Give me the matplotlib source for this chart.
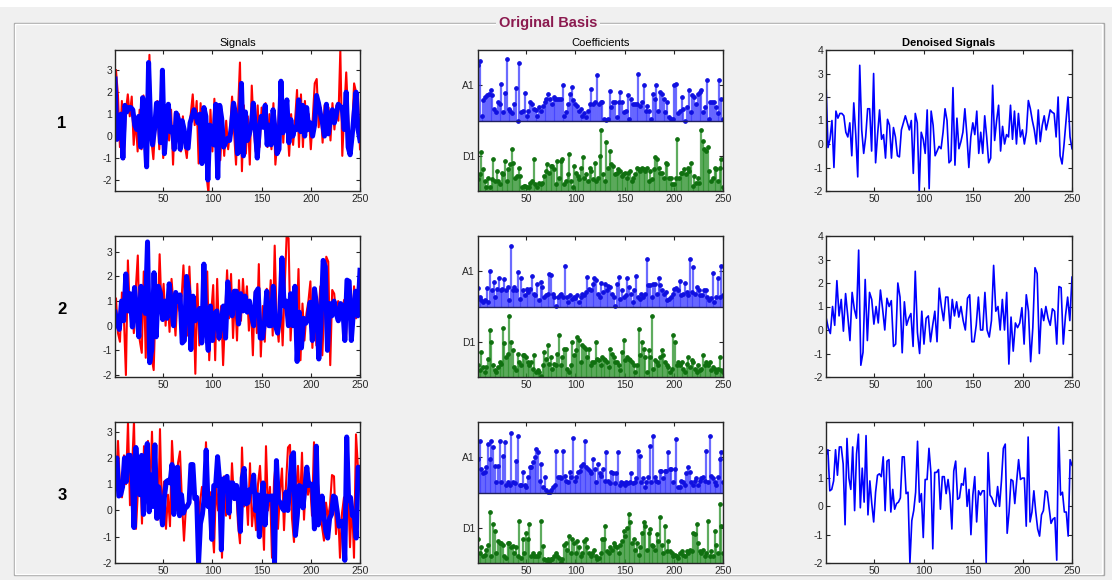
import numpy as np
import matplotlib.pyplot as plt
from matplotlib.patches import Rectangle

plt.rcParams['font.family'] = ['Liberation Sans', 'DejaVu Sans']
plt.rcParams['axes.unicode_minus'] = False

W, H = 1112, 580

# denoised signals (blue), one value every second sample
den1 = [2.6, -0.15, 0.2, 1.0, -1.0, 1.4, 1.1, 1.3, 1.3, 1.2, 0.5, 0.3, 0.9, -0.5, 1.75, 0.4,
        -1.4, 3.35, 0.6, -0.4, 0.3, 1.5, 1.5, -0.3, 3.0, -0.8, 0.4, 1.45, 0.2, 0.4, -0.6, 1.05,
        0.8, -0.6, 0.7, 0.3, -0.5, -0.55, 0.6, 0.9, 1.2, 0.9, 0.6, 1.0, -1.25, 1.3, 0.9, -2.0,
        0.5, 0.2, -0.4, 1.45, -1.9, 1.4, 0.8, -0.5, -0.3, -0.1, -0.2, 0.5, 1.5, 1.0, -0.8, -0.7,
        2.4, -0.9, 1.1, -0.2, 0.1, 0.5, 1.5, 0.4, -1.0, 0.3, 0.9, 0.4, 1.4, -0.4, 0.5, -0.4,
        1.2, 0.3, -0.8, -0.6, 2.5, 0.15, 1.0, 1.65, -0.3, 0.75, 0.0, 0.4, 0.3, 1.65, 0.2, 1.4,
        0.0, 1.3, 0.3, 0.6, 0.0, 0.5, 1.85, 1.5, 1.0, 0.6, 0.0, 1.45, 0.1, 0.8, 1.2, 0.6,
        1.0, 1.45, 1.35, 1.3, 0.3, 2.0, -0.5, -0.85, 0.0, 1.0, 2.0, 0.3, -0.2]
den2 = [0.55, 0.1, -0.15, 1.0, 0.2, 2.1, 0.6, 1.3, -0.05, 1.55, 0.6, -0.45, 1.6, 0.9, 0.5, 3.4,
        -1.5, -0.95, 2.15, -0.45, 1.6, 1.3, 0.25, 1.0, 0.3, 1.7, 0.9, 0.0, 1.35, 1.0, 1.25, -0.7,
        -0.6, 2.0, 1.4, -0.97, 1.2, 0.2, 0.5, 0.7, -0.7, 2.5, -0.1, -1.0, 0.8, -0.6, 0.5, 0.6,
        -0.5, 0.2, 0.8, -0.5, 1.78, 1.0, 0.4, 1.4, 1.4, 0.07, 1.3, 0.6, 1.2, 0.55, 1.0, 0.4,
        0.0, 1.35, 1.5, -0.5, -0.5, 0.2, 1.4, 0.0, 0.0, 1.6, 0.0, -0.3, 0.4, 2.75, 0.8, 1.0,
        0.0, 1.3, 0.0, 1.6, -1.45, 0.55, -0.9, 0.3, 0.1, 0.3, 0.95, -0.6, 1.5, 0.8, -1.35, 0.1,
        2.65, 2.4, -1.0, 0.9, 0.4, 1.0, 0.5, 0.2, 0.9, 0.8, -0.6, 1.85, 1.8, -0.6, 0.6, 1.4,
        0.4, 2.25]
den3 = [1.8, 2.0, 0.55, 0.6, 0.9, 2.0, 1.1, 2.1, 2.1, 1.5, -0.65, 2.4, 1.0, 0.6, 2.1, -0.15,
        1.85, 2.55, -0.05, 1.35, 0.15, 2.5, -0.3, 0.9, 0.1, -0.55, 0.5, 1.1, 1.15, 1.05, 1.75, -0.15,
        1.6, 1.65, -0.2, 0.6, -0.1, 0.1, 0.15, 0.3, 1.75, 1.75, 0.45, 0.5, -2.0, -0.5, -0.15, 0.5,
        2.3, 0.15, 0.45, -1.1, 0.95, 0.95, 2.05, 1.2, -1.5, 1.2, 1.2, 1.3, -0.1, 1.05, 1.05, 0.45,
        0.95, 0.4, -0.8, 1.25, 1.6, 0.25, 0.3, 0.8, 0.75, 1.35, 0.0, 0.6, -1.0, 0.4, 1.05, -0.55,
        0.55, 0.4, 0.55, 0.55, -2.0, 1.9, 0.4, 0.3, 0.1, 0.0, 0.7, 0.0, 0.9, 2.05, 2.2, -0.95,
        -0.2, 0.95, 0.9, 0.1, 0.9, 1.65, 0.95, 1.0, 1.0, -0.7, 2.45, -0.55, -0.2, 0.55, -0.2, -0.8,
        -1.05, -0.3, -0.15, 0.55, 0.5, -0.05, -0.6, -0.45, -0.4, -1.9, 2.8, 0.4, 0.5, -0.2, -0.2, -1.05,
        1.65, 1.45]

# original noisy signals (red)
sig1 = [3.0, 1.85, -0.5, 1.6, -1.05, 1.1, 1.9, 0.9, 1.8, -0.4, 0.8, -0.7, 1.2, -0.6, 1.85, -1.3,
        1.0, 3.7, -0.2, -1.05, 0.6, 1.6, -0.6, 2.0, -1.0, 0.6, 1.1, -0.2, 1.2, -1.3, 1.1, 0.2,
        1.0, -0.7, 0.9, -0.4, -1.0, 0.3, 1.0, 1.9, 0.5, 1.6, -1.25, 1.5, -0.6, 1.0, -1.8, -2.6,
        1.2, -0.7, 1.7, -1.1, 1.45, -1.1, 0.6, -0.9, 0.7, -0.6, 0.3, 1.8, 0.2, -1.3, 1.1, 3.35,
        -1.6, 1.4, -0.8, 0.9, -1.3, 2.3, 0.3, -0.7, 1.4, -0.5, 1.3, 0.6, 1.5, -0.5, 1.0, -0.6,
        1.5, -1.3, -0.2, 1.6, 2.5, -0.3, 1.2, 0.6, -0.9, 1.0, -0.4, 0.7, 2.1, -0.5, 1.9, -0.5,
        1.6, 0.2, 1.0, -0.6, 0.8, 2.4, 2.6, 0.4, 1.3, -0.3, 1.4, 0.5, 1.3, -0.2, 1.5, 0.3,
        1.4, 0.7, 3.9, -0.9, 1.1, 2.9, 0.8, -0.6, 0.3, 2.4, 2.0, 1.7, -0.6]
sig2 = [1.1, -0.3, -0.65, 1.35, 0.3, -2.0, 2.65, 0.5, 1.0, -0.3, 1.5, 2.85, -0.6, -1.1, 2.2, -1.3,
        2.6, 0.6, -1.3, -1.8, 1.0, 0.3, 2.9, 0.6, 1.7, 0.0, 1.2, -0.25, 1.9, 0.8, -0.4, 1.2,
        0.6, 1.0, 2.45, 0.5, -0.4, 2.4, 0.3, 1.2, -1.95, 1.7, -0.8, 0.4, 1.1, -0.3, 2.2, -1.4,
        0.5, 1.65, -1.4, 1.9, -0.6, 0.8, -1.6, 0.4, 2.25, 0.3, 2.1, -0.5, 1.3, -0.6, 1.85, 0.2,
        1.9, 0.6, 1.6, -0.2, 0.9, -1.2, 1.4, -0.3, 2.5, -1.25, 0.8, -0.65, 1.5, 0.3, 1.85, -0.4,
        3.25, 0.2, -0.65, 1.2, -0.8, 1.5, 3.6, 3.55, -0.6, 1.0, 1.5, -0.2, 2.3, -1.4, 0.9, -0.6,
        0.5, 1.0, 1.8, -0.9, 1.2, -0.8, 0.3, 1.6, -1.2, 0.8, 2.8, 2.6, -1.6, 1.45, 1.3, 0.4,
        1.0, 0.8, 0.6, 1.05, -0.5, 1.4, 1.25, -0.6, 1.6, 0.3, 1.6, 1.9]
sig3 = [0.9, 2.65, 0.9, 0.5, 2.1, 1.0, 3.35, 0.2, 1.5, 3.4, -0.7, 0.8, 1.95, -0.5, 2.45, 0.3,
        2.65, 0.6, 3.0, 0.2, 1.8, -0.35, 3.1, -0.3, 1.1, -0.7, 0.6, -0.6, 2.65, 1.2, 0.0, 1.8,
        2.25, 0.3, -1.15, 0.2, 0.3, 0.5, 1.7, 0.8, 0.2, -1.5, 0.3, 0.9, 0.6, 2.6, 0.2, 0.7,
        -0.5, -1.6, 1.0, 0.0, 1.4, -1.8, 1.3, -0.2, 0.8, -0.3, 1.8, 0.4, 1.0, -0.5, -1.25, 2.4,
        0.15, 0.8, -0.55, 1.8, -0.6, 0.3, -0.75, 1.0, 1.7, 0.2, -1.5, 2.45, 0.0, 0.9, -1.8, 1.1,
        1.9, -0.7, 0.7, 1.6, -0.75, 1.0, 2.4, 2.5, -0.3, -1.2, 0.8, 1.7, 0.2, 2.2, -0.35, 1.2,
        0.6, 1.1, -0.2, 2.6, -0.35, 1.0, 0.4, -0.6, -1.15, 0.3, -0.3, 0.2, 1.35, 1.3, -0.9, 0.1,
        -1.8, -0.1, 0.5, -1.0, 1.0, -1.4, 0.4, -1.8, 2.9, 1.6, 1.7]

# level-1 coefficient magnitudes, scaled to their band
a1_1 = [0.79, 0.85, 0.07, 0.29, 0.33, 0.36, 0.38, 0.43, 0.36, 0.17, 0.12, 0.26, 0.24, 0.52, 0.12, 0.39,
        0.87, 0.17, 0.14, 0.10, 0.24, 0.46, 0.0, 0.82, 0.12, 0.14, 0.39, 0.07, 0.14, 0.26, 0.24, 0.17,
        0.15, 0.07, 0.19, 0.13, 0.21, 0.26, 0.31, 0.38, 0.31, 0.24, 0.33, 0.31, 0.31, 0.30, 0.31, 0.51,
        0.07, 0.12, 0.24, 0.38, 0.48, 0.29, 0.24, 0.21, 0.14, 0.17, 0.07, 0.10, 0.05, 0.14, 0.24, 0.44,
        0.24, 0.26, 0.64, 0.24, 0.26, 0.26, 0.02, 0.01, 0.02, 0.42, 0.19, 0.26, 0.26, 0.05, 0.26, 0.40,
        0.26, 0.12, 0.14, 0.36, 0.02, 0.31, 0.24, 0.24, 0.24, 0.66, 0.21, 0.26, 0.50, 0.14, 0.21, 0.14,
        0.02, 0.38, 0.31, 0.50, 0.14, 0.40, 0.38, 0.31, 0.12, 0.26, 0.05, 0.02, 0.02, 0.50, 0.52, 0.10,
        0.14, 0.33, 0.17, 0.0, 0.19, 0.43, 0.12, 0.36, 0.33, 0.24, 0.38, 0.40, 0.43, 0.12, 0.19, 0.57,
        0.02, 0.26, 0.26, 0.26, 0.19, 0.10, 0.57, 0.31, 0.02]
d1_1 = [0.17, 0.24, 0.55, 0.31, 0.14, 0.05, 0.19, 0.05, 0.17, 0.45, 0.14, 0.29, 0.14, 0.10, 0.26, 0.24,
        0.43, 0.14, 0.31, 0.38, 0.60, 0.40, 0.19, 0.21, 0.33, 0.21, 0.05, 0.07, 0.07, 0.05, 0.05, 0.12,
        0.14, 0.45, 0.10, 0.05, 0.12, 0.10, 0.12, 0.21, 0.29, 0.38, 0.26, 0.36, 0.36, 0.31, 0.10, 0.43,
        0.19, 0.43, 0.45, 0.10, 0.14, 0.24, 0.52, 0.14, 0.05, 0.36, 0.26, 0.21, 0.17, 0.33, 0.48, 0.19,
        0.24, 0.14, 0.33, 0.29, 0.17, 0.40, 0.14, 0.19, 0.50, 0.86, 0.24, 0.14, 0.69, 0.33, 0.57, 0.38,
        0.36, 0.24, 0.26, 0.31, 0.29, 0.21, 0.24, 0.26, 0.19, 0.26, 0.29, 0.14, 0.19, 0.24, 0.33, 0.31,
        0.29, 0.33, 0.31, 0.29, 0.33, 0.14, 0.29, 0.17, 0.31, 0.48, 0.45, 0.33, 0.26, 0.26, 0.19, 0.40,
        0.38, 0.19, 0.19, 0.10, 0.10, 0.19, 0.74, 0.19, 0.26, 0.26, 0.31, 0.24, 0.33, 0.29, 0.40, 0.07,
        0.21, 0.12, 0.19, 0.12, 0.86, 0.71, 0.60, 0.57, 0.62, 0.29, 0.14, 0.19, 0.33, 0.31, 0.14, 0.33,
        0.45, 0.05]
a1_2 = [0.26, 0.13, 0.09, 0.06, 0.09, 0.26, 0.06, 0.51, 0.23, 0.35, 0.13, 0.25, 0.40, 0.23, 0.25, 0.39,
        0.23, 0.28, 0.09, 0.86, 0.23, 0.28, 0.23, 0.49, 0.10, 0.40, 0.23, 0.16, 0.25, 0.20, 0.25, 0.43,
        0.18, 0.16, 0.32, 0.09, 0.35, 0.28, 0.13, 0.17, 0.18, 0.46, 0.44, 0.18, 0.13, 0.01, 0.13, 0.16,
        0.18, 0.13, 0.58, 0.13, 0.06, 0.16, 0.10, 0.13, 0.12, 0.17, 0.06, 0.13, 0.18, 0.16, 0.20, 0.42,
        0.25, 0.23, 0.32, 0.40, 0.37, 0.18, 0.13, 0.33, 0.20, 0.32, 0.23, 0.29, 0.28, 0.18, 0.13, 0.01,
        0.32, 0.42, 0.10, 0.23, 0.13, 0.16, 0.40, 0.28, 0.18, 0.06, 0.23, 0.43, 0.13, 0.10, 0.18, 0.13,
        0.18, 0.68, 0.30, 0.30, 0.13, 0.32, 0.32, 0.18, 0.40, 0.30, 0.23, 0.18, 0.20, 0.09, 0.10, 0.13,
        0.18, 0.25, 0.26, 0.23, 0.36, 0.16, 0.18, 0.34, 0.20, 0.16, 0.67, 0.20, 0.56, 0.18, 0.28, 0.23,
        0.16, 0.16, 0.23, 0.23, 0.13, 0.09, 0.12, 0.47, 0.07, 0.13, 0.40, 0.13, 0.58, 0.16]
d1_2 = [0.17, 0.10, 0.36, 0.14, 0.07, 0.14, 0.26, 0.67, 0.50, 0.17, 0.10, 0.07, 0.14, 0.21, 0.19, 0.69,
        0.48, 0.29, 0.33, 0.87, 0.50, 0.38, 0.14, 0.10, 0.33, 0.21, 0.17, 0.31, 0.31, 0.29, 0.21, 0.17,
        0.21, 0.12, 0.31, 0.07, 0.10, 0.07, 0.02, 0.17, 0.36, 0.26, 0.45, 0.19, 0.29, 0.12, 0.19, 0.17,
        0.33, 0.60, 0.17, 0.29, 0.40, 0.40, 0.12, 0.07, 0.17, 0.49, 0.31, 0.38, 0.57, 0.52, 0.21, 0.45,
        0.43, 0.40, 0.29, 0.40, 0.17, 0.21, 0.21, 0.49, 0.26, 0.24, 0.17, 0.29, 0.26, 0.24, 0.21, 0.14,
        0.40, 0.33, 0.29, 0.21, 0.21, 0.17, 0.10, 0.36, 0.52, 0.24, 0.29, 0.26, 0.24, 0.21, 0.17, 0.07,
        0.17, 0.68, 0.31, 0.50, 0.40, 0.29, 0.07, 0.38, 0.29, 0.87, 0.12, 0.24, 0.21, 0.17, 0.29, 0.38,
        0.31, 0.21, 0.17, 0.14, 0.07, 0.12, 0.60, 0.50, 0.17, 0.21, 0.17, 0.21, 0.12, 0.07, 0.19, 0.29,
        0.14, 0.24, 0.21, 0.12, 0.07, 0.17, 0.10, 0.12, 0.31, 0.17, 0.21, 0.17, 0.21, 0.10, 0.14, 0.12,
        0.07, 0.12, 0.29, 0.10, 0.07]
a1_3 = [0.48, 0.73, 0.34, 0.27, 0.29, 0.36, 0.69, 0.48, 0.73, 0.64, 0.38, 0.15, 0.38, 0.73, 0.15, 0.52,
        0.71, 0.10, 0.15, 0.10, 0.84, 0.15, 0.13, 0.45, 0.80, 0.10, 0.10, 0.29, 0.10, 0.08, 0.22, 0.36,
        0.36, 0.43, 0.50, 0.62, 0.57, 0.17, 0.41, 0.08, 0.22, 0.03, 0.01, 0.01, 0.03, 0.08, 0.10, 0.59,
        0.22, 0.22, 0.20, 0.59, 0.24, 0.17, 0.15, 0.29, 0.22, 0.78, 0.17, 0.22, 0.29, 0.31, 0.38, 0.41,
        0.73, 0.36, 0.34, 0.31, 0.27, 0.48, 0.34, 0.15, 0.41, 0.27, 0.24, 0.34, 0.17, 0.57, 0.17, 0.13,
        0.29, 0.27, 0.13, 0.27, 0.57, 0.10, 0.15, 0.13, 0.10, 0.15, 0.13, 0.15, 0.27, 0.13, 0.15, 0.20,
        0.59, 0.52, 0.15, 0.20, 0.08, 0.15, 0.22, 0.66, 0.15, 0.80, 0.22, 0.17, 0.15, 0.31, 0.31, 0.20,
        0.31, 0.31, 0.57, 0.34, 0.34, 0.15, 0.34, 0.76, 0.08, 0.08, 0.17, 0.15, 0.10, 0.27, 0.36, 0.29,
        0.15, 0.10, 0.17, 0.20, 0.10, 0.17, 0.20, 0.22, 0.17, 0.59, 0.15, 0.80, 0.24, 0.20, 0.15, 0.10,
        0.22, 0.48, 0.57, 0.15]
d1_3 = [0.34, 0.14, 0.22, 0.10, 0.12, 0.19, 0.26, 0.72, 0.10, 0.55, 0.46, 0.14, 0.31, 0.29, 0.29, 0.26,
        0.10, 0.07, 0.29, 0.29, 0.22, 0.24, 0.14, 0.22, 0.10, 0.60, 0.07, 0.34, 0.14, 0.43, 0.34, 0.55,
        0.10, 0.14, 0.10, 0.10, 0.10, 0.14, 0.60, 0.24, 0.05, 0.04, 0.05, 0.02, 0.05, 0.05, 0.10, 0.14,
        0.10, 0.07, 0.02, 0.05, 0.26, 0.29, 0.19, 0.38, 0.14, 0.34, 0.29, 0.14, 0.31, 0.22, 0.10, 0.14,
        0.31, 0.34, 0.22, 0.14, 0.10, 0.14, 0.19, 0.10, 0.05, 0.07, 0.14, 0.34, 0.34, 0.53, 0.17, 0.14,
        0.22, 0.19, 0.29, 0.24, 0.22, 0.14, 0.26, 0.31, 0.46, 0.38, 0.50, 0.70, 0.58, 0.29, 0.34, 0.19,
        0.29, 0.12, 0.22, 0.43, 0.58, 0.53, 0.19, 0.43, 0.48, 0.26, 0.24, 0.19, 0.41, 0.31, 0.65, 0.26,
        0.14, 0.53, 0.17, 0.31, 0.17, 0.14, 0.10, 0.12, 0.10, 0.07, 0.14, 0.17, 0.12, 0.10, 0.17, 0.14,
        0.19, 0.17, 0.43, 0.41, 0.55, 0.29, 0.17, 0.14, 0.19, 0.10, 0.14, 0.60, 0.10, 0.17, 0.10, 0.46,
        0.26, 0.14, 0.84, 0.53, 0.14]

rows = [
    dict(den=den1, sig=sig1, a1=a1_1, d1=d1_1, sig_lim=(-2.5, 3.92), den_lim=(-2, 4)),
    dict(den=den2, sig=sig2, a1=a1_2, d1=d1_2, sig_lim=(-2.08, 3.64), den_lim=(-2, 4)),
    dict(den=den3, sig=sig3, a1=a1_3, d1=d1_3, sig_lim=(-2.0, 3.37), den_lim=(-2, 2.98)),
]
row_names = ['1', '2', '3']
xticks = [50, 100, 150, 200, 250]

BG = '#f0f0f0'
fig = plt.figure(figsize=(W / 100, H / 100), dpi=100, facecolor=BG)


def add_ax(left, top, width, height):
    return fig.add_axes([left / W, 1 - (top + height) / H, width / W, height / H])


def style(ax):
    ax.set_facecolor('white')
    ax.set_xlim(1, 250)
    ax.set_xticks(xticks)
    ax.tick_params(direction='in', top=True, right=True, length=3, width=0.8,
                   labelsize=7.5, pad=2, colors='#262626', labelcolor='#262626')
    for sp in ax.spines.values():
        sp.set_linewidth(1.0)
        sp.set_color('#262626')


# etched panel frame with its title
fig.add_artist(Rectangle((14 / W, 1 - 575 / H), (1104 - 14) / W, (575 - 23) / H,
                         transform=fig.transFigure, fill=False, ec='#a8a8a8', lw=1))
fig.add_artist(Rectangle((15 / W, 1 - 574 / H), (1102 - 15) / W, (574 - 24) / H,
                         transform=fig.transFigure, fill=False, ec='white', lw=1))
fig.add_artist(Rectangle((0, 1 - 7 / H), 1, 7 / H, transform=fig.transFigure,
                         fc='white', ec='none'))
fig.text(548 / W, 1 - 23 / H, 'Original Basis', ha='center', va='center', fontsize=10.5,
         fontweight='bold', color='#8b1a4f',
         bbox=dict(fc=BG, ec='none', pad=2))

tops = [50, 236, 422]
ax_h = 141
ax_w = 245
for i, r in enumerate(rows):
    top = tops[i]
    fig.text(62 / W, 1 - (top + 73) / H, row_names[i], ha='center', va='center',
             fontsize=12, fontweight='bold')

    # original signal with the denoised one drawn over it
    ax = add_ax(115, top, ax_w, ax_h)
    xs = np.linspace(2, 250, len(r['sig']))
    xd = np.linspace(1, 250, len(r['den']))
    ax.plot(xs, r['sig'], color='red', lw=1.5)
    ax.plot(xd, r['den'], color='blue', lw=3.6)
    ax.set_ylim(*r['sig_lim'])
    ax.set_yticks(range(-2, 4))
    style(ax)
    if i == 0:
        ax.set_title('Signals', fontsize=8, pad=3)

    # coefficient magnitudes: A1 band on top, D1 band below
    ax = add_ax(478, top, ax_w, ax_h)
    a1 = np.array(r['a1'])
    d1 = np.array(r['d1'])
    xa = np.linspace(1, 250, len(a1))
    xc = np.linspace(1, 250, len(d1))
    ax.vlines(xa, 1, 1 + a1, colors='#3a3aff', lw=1.6, alpha=0.75)
    ax.plot(xa, 1 + a1, 'o', ms=2.4, color='#1010e0')
    ax.vlines(xc, 0, d1, colors='#2a902a', lw=1.6, alpha=0.75)
    ax.plot(xc, d1, 'o', ms=2.4, color='#107010')
    ax.axhline(1, color='#202060', lw=1.0)
    ax.set_ylim(0, 2)
    ax.set_yticks([0.5, 1.5])
    ax.set_yticklabels(['D1', 'A1'])
    style(ax)
    if i == 0:
        ax.set_title('Coefficients', fontsize=8, pad=3)

    # denoised signal alone
    ax = add_ax(826, top, ax_w + 1, ax_h)
    ax.plot(xd, r['den'], color='blue', lw=1.2)
    ax.set_ylim(*r['den_lim'])
    ax.set_yticks(range(-2, int(np.floor(r['den_lim'][1])) + 1))
    style(ax)
    if i == 0:
        ax.set_title('Denoised Signals', fontsize=8, fontweight='bold', pad=3)

fig.savefig('out.png', dpi=100, facecolor=BG)
